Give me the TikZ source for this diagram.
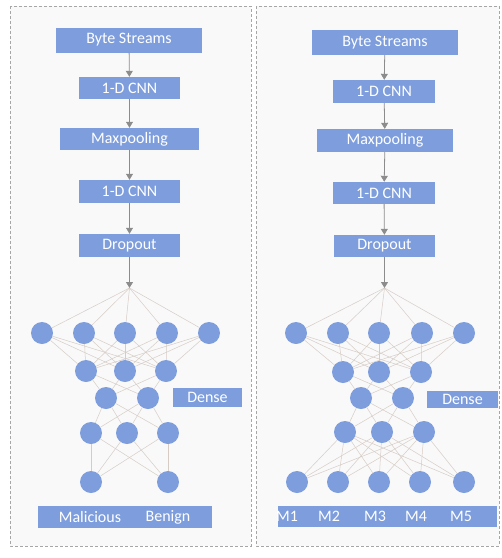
\documentclass[tikz,border=0pt]{standalone}
\usepackage{fontspec}
\setmainfont{Carlito}
\usetikzlibrary{arrows.meta}
\definecolor{layerblue}{RGB}{125,157,220}
\definecolor{linkgray}{RGB}{214,204,198}
\definecolor{panelgray}{RGB}{249,249,250}
\begin{document}
\begin{tikzpicture}[x=1pt,y=-1pt]
          \tikzstyle{panel}=[draw=black!35,dash pattern=on 3pt off 2pt,fill=panelgray]
          \tikzstyle{layer}=[rectangle,fill=layerblue,text=white,inner sep=0pt,font=\fontsize{16}{18}\selectfont]
          \tikzstyle{neuron}=[circle,fill=layerblue,minimum size=22pt,inner sep=0pt]
          \tikzstyle{outtext}=[text=white,inner sep=0pt,font=\fontsize{16}{18}\selectfont]
          \tikzstyle{flow}=[draw=black!45,thick,-{Triangle[width=7pt,length=6pt]}]
          \tikzstyle{link}=[draw=linkgray,line width=0.5pt]
          \useasboundingbox (0,0) rectangle (502,558);
          \draw[panel] (10,6) rectangle (251,546);
          \draw[panel] (256,6) rectangle (499,546);
          % binary model
          \begin{scope}
              \node [layer,minimum width=146pt,minimum height=25pt] (bs1) at (129,40) {Byte Streams};
              \node [layer,minimum width=101pt,minimum height=22pt] (cnnA1) at (129.5,88) {1-D CNN};
              \node [layer,minimum width=139pt,minimum height=22pt] (mp1) at (129.5,139) {Maxpooling};
              \node [layer,minimum width=101pt,minimum height=23pt] (cnnB1) at (129.5,191.5) {1-D CNN};
              \node [layer,minimum width=101pt,minimum height=23pt] (do1) at (129.5,245.5) {Dropout};
              \coordinate (top1) at (129.5,288);
              \path[flow] (bs1) -- (cnnA1);
              \path[flow] (cnnA1) -- (mp1);
              \path[flow] (mp1) -- (cnnB1);
              \path[flow] (cnnB1) -- (do1);
              \path[flow] (do1) -- (top1);
              \node [neuron] (a1) at (42,333) {};
              \node [neuron] (a2) at (84,333) {};
              \node [neuron] (a3) at (125,333) {};
              \node [neuron] (a4) at (167,333) {};
              \node [neuron] (a5) at (209,333) {};
              \node [neuron] (b1) at (86,371) {};
              \node [neuron] (b2) at (125,371) {};
              \node [neuron] (b3) at (166,371) {};
              \node [neuron] (c1) at (106,398) {};
              \node [neuron] (c2) at (148,398) {};
              \node [neuron] (d1) at (91,433) {};
              \node [neuron] (d2) at (127,433) {};
              \node [neuron] (d3) at (168,433) {};
              \node [neuron] (e1) at (91,482) {};
              \node [neuron] (e2) at (168,482) {};
              \node [layer,minimum width=69pt,minimum height=19pt] (dense1) at (207.5,397.5) {Dense};
              \node [layer,minimum width=174pt,minimum height=22pt] (out1) at (125,517) {};
              \node [outtext] (mal) at (90,517) {Malicious};
              \node [outtext] (ben) at (168,517) {Benign};
              \foreach \i in {1,...,5} \path[link] (top1) edge (a\i);
              \foreach \i in {1,...,5} \foreach \j in {1,2,3} \path[link] (a\i) edge (b\j);
              \foreach \i in {1,2,3} \foreach \j in {1,2} \path[link] (b\i) edge (c\j);
              \foreach \i in {1,2} \foreach \j in {1,2,3} \path[link] (c\i) edge (d\j);
              \foreach \i in {1,2,3} \foreach \j in {1,2} \path[link] (d\i) edge (e\j);
          \end{scope}
          % family model
          \begin{scope}
              \node [layer,minimum width=146pt,minimum height=25pt] (bs2) at (385,42.5) {Byte Streams};
              \node [layer,minimum width=102pt,minimum height=23pt] (cnnA2) at (384,91.5) {1-D CNN};
              \node [layer,minimum width=136pt,minimum height=23pt] (mp2) at (385,140.5) {Maxpooling};
              \node [layer,minimum width=102pt,minimum height=22pt] (cnnB2) at (384,193) {1-D CNN};
              \node [layer,minimum width=101pt,minimum height=22pt] (do2) at (384.5,246) {Dropout};
              \coordinate (top2) at (384.5,288);
              \path[flow] (bs2) -- (cnnA2);
              \path[flow] (cnnA2) -- (mp2);
              \path[flow] (mp2) -- (cnnB2);
              \path[flow] (cnnB2) -- (do2);
              \path[flow] (do2) -- (top2);
              \node [neuron] (f1) at (296,333) {};
              \node [neuron] (f2) at (338,333) {};
              \node [neuron] (f3) at (379,333) {};
              \node [neuron] (f4) at (422,333) {};
              \node [neuron] (f5) at (464,333) {};
              \node [neuron] (g1) at (343,372) {};
              \node [neuron] (g2) at (379,372) {};
              \node [neuron] (g3) at (421,372) {};
              \node [neuron] (h1) at (361,398) {};
              \node [neuron] (h2) at (403,398) {};
              \node [neuron] (k1) at (345,432) {};
              \node [neuron] (k2) at (382,432) {};
              \node [neuron] (k3) at (424,432) {};
              \node [neuron] (m1) at (297,482) {};
              \node [neuron] (m2) at (338,482) {};
              \node [neuron] (m3) at (379,482) {};
              \node [neuron] (m4) at (420,482) {};
              \node [neuron] (m5) at (464,482) {};
              \node [layer,minimum width=71pt,minimum height=17pt] (dense2) at (462.5,399.5) {Dense};
              \node [layer,minimum width=219pt,minimum height=21pt] (out2) at (387.5,516.5) {};
              \node [outtext] (fam1) at (287,516.5) {M1};
              \node [outtext] (fam2) at (329,516.5) {M2};
              \node [outtext] (fam3) at (375,516.5) {M3};
              \node [outtext] (fam4) at (416,516.5) {M4};
              \node [outtext] (fam5) at (461,516.5) {M5};
              \foreach \i in {1,...,5} \path[link] (top2) edge (f\i);
              \foreach \i in {1,...,5} \foreach \j in {1,2,3} \path[link] (f\i) edge (g\j);
              \foreach \i in {1,2,3} \foreach \j in {1,2} \path[link] (g\i) edge (h\j);
              \foreach \i in {1,2} \foreach \j in {1,2,3} \path[link] (h\i) edge (k\j);
              \foreach \i in {1,2,3} \foreach \j in {1,...,5} \path[link] (k\i) edge (m\j);
          \end{scope}
        \end{tikzpicture}
\end{document}
